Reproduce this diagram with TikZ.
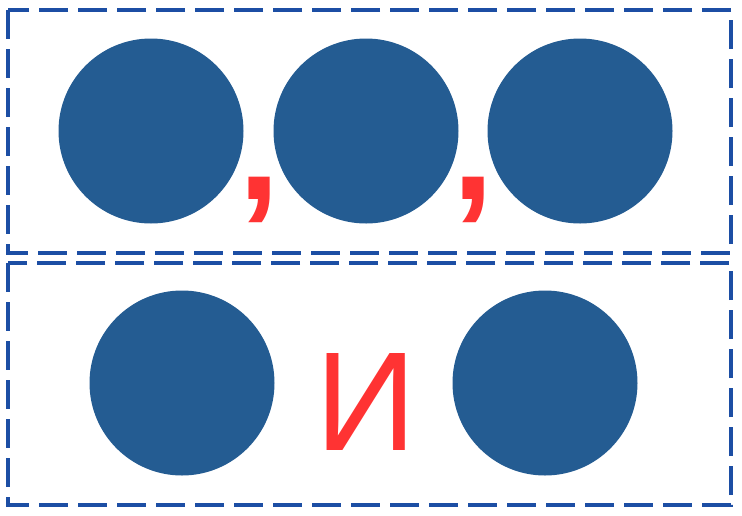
\documentclass[tikz,border=0pt]{standalone}
\usepackage{fontspec}
\setmainfont{Liberation Sans}
\usepackage{xcolor}
\usetikzlibrary{positioning}

\definecolor{dotblue}{RGB}{36,92,146}
\definecolor{frameblue}{RGB}{28,78,164}
\definecolor{markred}{RGB}{255,51,51}

\begin{document}
\begin{tikzpicture}[
    x=1pt, y=-1pt,
    frame/.style={draw=frameblue, line width=4pt, dash pattern=on 29pt off 10pt},
    dot/.style={circle, fill=dotblue, minimum size=185pt, inner sep=0pt},
    comma/.style={text=markred, inner sep=0pt, anchor=base, font=\fontsize{150}{150}\selectfont\bfseries},
    word/.style={text=markred, inner sep=0pt, anchor=base, font=\fontsize{141}{141}\selectfont}
]
\useasboundingbox (0,0) rectangle (742,515);

% Frames
\draw[frame] (8,10) rectangle (731,253);
\draw[frame] (8,263) rectangle (731,505);

% Top row: three dots with commas
\node[dot] (d1) at (151,131) {};
\node[dot] (d2) at (366,131) {};
\node[dot] (d3) at (580,131) {};
\node[comma] (c1) at (259,199) {,};
\node[comma] (c2) at (473,199) {,};

% Bottom row: two dots with the word
\node[dot] (d4) at (182,383) {};
\node[dot] (d5) at (545,383) {};
\node[word] (and) at (366,450) {И};

\end{tikzpicture}
\end{document}
